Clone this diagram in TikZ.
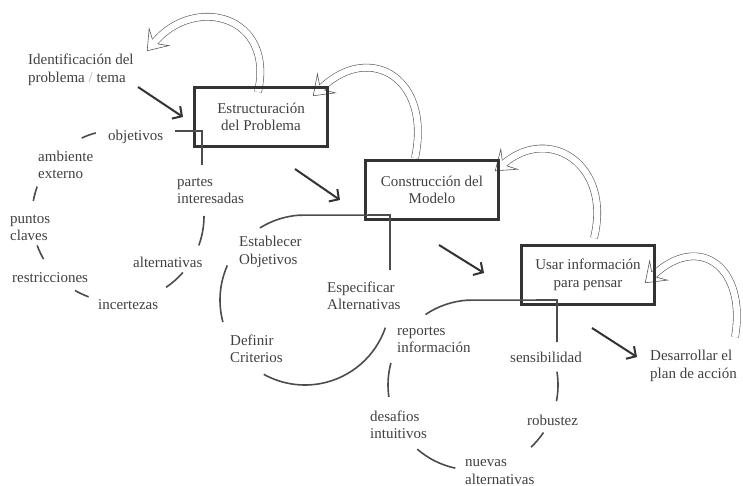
\documentclass[tikz,border=0pt]{standalone}
\usepackage{fontspec}
\setmainfont{Liberation Serif}
\usetikzlibrary{arrows.meta,decorations.markings}

\begin{document}
\begin{tikzpicture}[x=1pt,y=1pt,yscale=-1,
    font=\fontsize{15}{17.5}\selectfont,
    texto/.style={inner sep=0pt,anchor=west,align=left,text=black!75},
    caja/.style={draw=black!80,line width=3pt,minimum width=133pt,minimum height=59pt,align=center,text=black!75},
    paso/.style={draw=black!80,line width=2pt,-{Straight Barb[length=7pt,width=15pt,line width=2pt]}},
    enlace/.style={draw=black!70,line width=1.6pt},
    punta/.style={decorate,decoration={markings,mark=at position 0.998 with {
      \fill[white] (-12pt,3.5pt) -- (-18pt,13pt) -- (0,0) -- (-18pt,-13pt) -- (-12pt,-3.5pt) -- cycle;
      \draw[black!65,line width=.6pt,shorten >=0pt,shorten <=0pt]
        (-12pt,3.5pt) -- (-18pt,13pt) -- (0,0) -- (-18pt,-13pt) -- (-12pt,-3.5pt);}}},
    bucle/.style={draw=black!65,line width=.6pt,double=white,double distance=6.5pt,
      shorten >=12pt,postaction={punta}}]
    \useasboundingbox (0,0) rectangle (743,486);
    % centros de los ciclos
    \coordinate (c1) at (118,216);
    \coordinate (c2) at (305,300);
    \coordinate (c3) at (473,385);
    % flechas huecas de retorno
    \draw[bucle] (258,92) .. controls (275,15) and (195,-5) .. (147,51);
    \draw[bucle] (415,158) .. controls (432,78) and (370,42) .. (313,96);
    \draw[bucle] (594,238) .. controls (612,165) and (550,125) .. (495,171);
    \draw[bucle] (735,337) .. controls (747,268) and (700,232) .. (645,283);
    % cajas
    \node[caja] (estr) at (261,117) {Estructuración\\del Problema};
    \node[caja] (constr) at (432,190) {Construcción del\\Modelo};
    \node[caja] (usar) at (588,275) {Usar información\\para pensar};
    % textos
    \node[texto] (ident) at (28,70) {Identificación del\\problema {\color{black!30}/} tema};
    \node[texto] (objetivos) at (108,137) {objetivos};
    \node[texto] (ambiente) at (38,165) {ambiente\\externo};
    \node[texto] (puntos) at (10,228) {puntos\\claves};
    \node[texto] (restricciones) at (12,278) {restricciones};
    \node[texto] (incertezas) at (98,305) {incertezas};
    \node[texto] (alternativas) at (133,262) {alternativas};
    \node[texto] (partes) at (177,191) {partes\\interesadas};
    \node[texto] (establecer) at (239,252) {Establecer\\Objetivos};
    \node[texto] (definir) at (230,349) {Definir\\Criterios};
    \node[texto] (especificar) at (327,296) {Especificar\\Alternativas};
    \node[texto] (reportes) at (397,340) {reportes\\información};
    \node[texto] (desafios) at (370,425) {desafios\\intuitivos};
    \node[texto] (nuevas) at (465,472) {nuevas\\alternativas};
    \node[texto] (robustez) at (527,420) {robustez};
    \node[texto] (sensibilidad) at (510,357) {sensibilidad};
    \node[texto] (desarrollar) at (650,366) {Desarrollar el\\plan de acción};
    % flechas entre etapas
    \coordinate (p1) at (138,87);  \coordinate (q1) at (183,117);
    \coordinate (p2) at (295,169); \coordinate (q2) at (340,200);
    \coordinate (p3) at (439,245); \coordinate (q3) at (484,273);
    \coordinate (p4) at (592,328); \coordinate (q4) at (637,357);
    \foreach \i in {1,...,4}
      \draw[paso] (p\i) -- (q\i);
    % ciclo 1
    \foreach \a/\b in {245/255,190/200,150/160,110/120,41/56,0/20}
      \draw[enlace] (c1) ++(\a:86) arc (\a:\b:86);
    \coordinate (e1) at (175,131);
    \coordinate (f1) at (202,165);
    \draw[enlace] (e1) -| (f1);
    % ciclo 2
    \draw[enlace] (c2) ++(165:85) arc (165:204:85);
    \draw[enlace] (c2) ++(19:85) arc (19:119:85);
    \coordinate (e2) at (390,215);
    \coordinate (f2) at (390,270);
    \draw[enlace] (c2) ++(238:85) arc (238:266:85) -- (e2) -- (f2);
    % ciclo 3
    \foreach \a/\b in {172/195,102/131,34/47,-9/11}
      \draw[enlace] (c3) ++(\a:85) arc (\a:\b:85);
    \coordinate (e3) at (557,300);
    \coordinate (f3) at (557,342);
    \draw[enlace] (c3) ++(236:85) arc (236:266:85) -- (e3) -- (f3);
\end{tikzpicture}
\end{document}
